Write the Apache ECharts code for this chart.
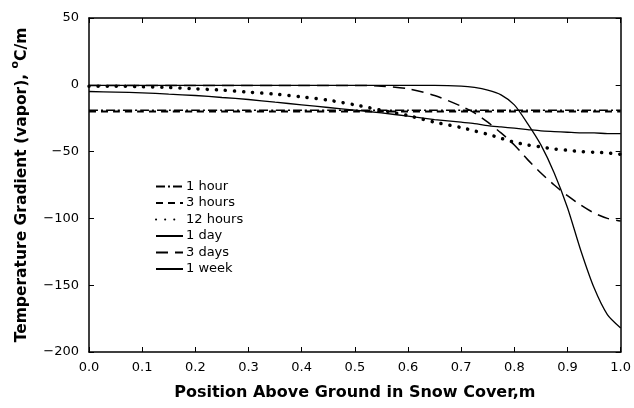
<!DOCTYPE html>
<html>
<head>
<meta charset="utf-8">
<script src="https://cdn.jsdelivr.net/npm/echarts@6/dist/echarts.min.js"></script>
<style>
  html, body { margin: 0; padding: 0; background: #fff; }
  #chart { width: 634px; height: 408px; }
</style>
</head>
<body>
<div id="chart"></div>
<script>
  // position above ground (m)
  var xPos = [0, 0.05, 0.1, 0.15, 0.2, 0.25, 0.3, 0.35, 0.4, 0.45, 0.5, 0.55, 0.6, 0.65, 0.7,
    0.725, 0.75, 0.775, 0.8, 0.825, 0.85, 0.875, 0.9, 0.925, 0.95, 0.975, 1.0]

  var oneHour = [-19, -19, -19, -19, -19, -19, -19, -19, -19, -19, -19, -19, -19, -19, -19,
    -19, -19, -19, -19, -19, -19, -19, -19, -19, -19, -19, -19]
  var threeHours = [-20, -20, -20, -20, -20, -20, -20, -20, -20, -20, -20, -20, -20, -20, -20,
    -20, -20, -20, -20, -20, -20, -20, -20, -20, -20, -20, -20]
  var twelveHours = [-1, -1, -1.5, -2, -3, -4, -5.5, -7, -9, -11.5, -15, -19, -23, -28, -32,
    -34.5, -37, -40, -43, -45, -46.5, -48, -49, -50, -50.5, -51, -52]
  var oneDay = [-5, -5.5, -6, -7, -8, -9.5, -11, -13, -15, -17, -19, -21, -23.5, -26, -28,
    -29, -30.5, -31.5, -32.5, -33.5, -34.5, -35, -35.5, -36, -36, -36.5, -36.5]
  var threeDays = [-0.5, -0.5, -0.5, -0.5, -0.5, -0.5, -0.5, -0.5, -0.5, -0.5, -0.5, -1, -3, -8, -16,
    -21, -28, -36, -45, -56, -66, -75, -83, -90, -96, -100, -102]
  var oneWeek = [-0.5, -0.5, -0.5, -0.5, -0.5, -0.5, -0.5, -0.5, -0.5, -0.5, -0.5, -0.5, -0.5, -0.5, -1,
    -2, -4, -7.5, -15, -29, -45, -66, -92, -124, -152, -172, -182]

  var font = 'DejaVu Sans'

  function pairs(ys) {
    return xPos.map(function (x, i) { return [x, ys[i]] })
  }

  function line(name, ys, style) {
    return {
      name: name,
      type: 'line',
      data: pairs(ys),
      symbol: 'none',
      smooth: 0.25,
      silent: true,
      animation: false,
      lineStyle: Object.assign({ color: '#000', width: 1.5 }, style),
      itemStyle: { color: '#000' }
    }
  }

  var chart = echarts.init(document.getElementById('chart'))
  chart.setOption({
    backgroundColor: '#fff',
    grid: { left: 89, right: 12, top: 18, bottom: 56 },
    legend: {
      left: 150,
      top: 175,
      orient: 'vertical',
      itemWidth: 27,
      itemHeight: 10,
      itemGap: 3.5,
      itemStyle: { color: 'transparent', borderColor: 'transparent', borderWidth: 0, opacity: 0 },
      textStyle: { fontFamily: font, fontSize: 13, color: '#000', padding: [0, 0, 0, -2] },
      data: ['1 hour', '3 hours', '12 hours', '1 day', '3 days', '1 week']
    },
    xAxis: [
      {
        type: 'value', min: 0, max: 1, interval: 0.1,
        name: 'Position Above Ground in Snow Cover,m',
        nameLocation: 'middle', nameGap: 33,
        nameTextStyle: { fontFamily: font, fontSize: 16, fontWeight: 'bold', color: '#000' },
        axisLine: { onZero: false, lineStyle: { color: '#000', width: 1.5 } },
        axisTick: { inside: true, length: 5, lineStyle: { color: '#000' } },
        axisLabel: { fontFamily: font, fontSize: 13, color: '#000', margin: 9,
          formatter: function (v) { return v.toFixed(1) } },
        splitLine: { show: false }
      },
      {
        type: 'value', min: 0, max: 1, interval: 0.1, position: 'top',
        axisLine: { show: true, onZero: false, lineStyle: { color: '#000', width: 1.5 } },
        axisTick: { show: true, inside: true, length: 5, lineStyle: { color: '#000' } },
        axisLabel: { show: false },
        splitLine: { show: false }
      }
    ],
    yAxis: [
      {
        type: 'value', min: -200, max: 50, interval: 50,
        name: 'Temperature Gradient (vapor), {sup|o}C/m',
        nameLocation: 'middle', nameGap: 56,
        nameTextStyle: {
          fontFamily: font, fontSize: 15.5, fontWeight: 'bold', color: '#000',
          rich: {
            sup: { fontFamily: font, fontSize: 11, fontWeight: 'bold', color: '#000',
              verticalAlign: 'bottom', padding: [0, 0, 12, 0] }
          }
        },
        axisLine: { onZero: false, lineStyle: { color: '#000', width: 1.5 } },
        axisTick: { inside: true, length: 5, lineStyle: { color: '#000' } },
        axisLabel: { fontFamily: font, fontSize: 13, color: '#000', margin: 10,
          formatter: function (v) { return String(v).replace('-', '\u2212') } },
        splitLine: { show: false }
      },
      {
        type: 'value', min: -200, max: 50, interval: 50, position: 'right',
        axisLine: { show: true, onZero: false, lineStyle: { color: '#000', width: 1.5 } },
        axisTick: { show: true, inside: true, length: 5, lineStyle: { color: '#000' } },
        axisLabel: { show: false },
        splitLine: { show: false }
      }
    ],
    series: [
      line('1 hour', oneHour, { type: [9, 3, 2, 3], width: 1.5 }),
      line('3 hours', threeHours, { type: [7, 5], width: 2 }),
      line('12 hours', twelveHours, { type: [0.1, 9], width: 3.5, cap: 'round' }),
      line('1 day', oneDay, { width: 1.3 }),
      line('3 days', threeDays, { type: [12, 7], width: 1.5 }),
      line('1 week', oneWeek, { width: 1.3 })
    ]
  })
</script>
</body>
</html>
